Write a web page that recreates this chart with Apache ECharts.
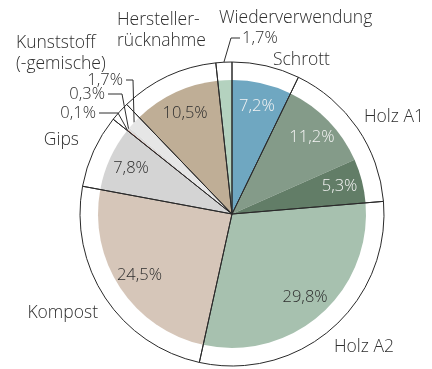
<!DOCTYPE html>
<html>
<head>
<meta charset="utf-8">
<script src="https://cdn.jsdelivr.net/npm/echarts@6/dist/echarts.min.js"></script>
<style>
  html, body { margin: 0; padding: 0; background: #fff; }
  #chart { width: 432px; height: 369px; }
</style>
</head>
<body>
<div id="chart"></div>
<script>
// Shares of each recovery path in percent, clockwise from 12 o'clock
const shareValues = [7.2, 11.2, 5.3, 29.8, 24.5, 7.8, 0.1, 0.3, 1.7, 10.5, 1.7];
// Group (index into groupNames) each share belongs to
const shareGroups = [0, 1, 1, 2, 3, 4, 5, 5, 5, 6, 7];
const groupNames = ['Schrott', 'Holz A1', 'Holz A2', 'Kompost', 'Gips',
  'Kunststoff\n(-gemische)', 'Hersteller-\nrücknahme', 'Wiederverwendung'];

// ---- styling & layout ----
const shareColors = ['#6fa7c1', '#849b89', '#627d67', '#a7c1af', '#d6c6b9', '#d4d4d4',
  '#c5533b', '#dcdcdc', '#e6e6e6', '#bfae96', '#b4d2bf'];
const lightText = [0, 1, 2];            // shares whose value sits on a dark fill
const insideValue = [0, 1, 2, 3, 4, 5, 9];
const FONT = 'Open Sans';
const INK = '#2e2e2e';
const CENTER = [232, 214];
const R_OUTER = 152;
const R_INNER = 134;

// group name anchors: [x, y, align]
const groupLabelPos = [
  [273, 60, 'left'],
  [364, 117, 'left'],
  [334, 347, 'left'],
  [98, 313, 'right'],
  [79, 140, 'right'],
  [16, 54, 'left'],
  [117, 31, 'left'],
  [219, 18, 'left']
];
// callouts for thin slices: dataIndex -> [line end x, elbow x, y]
const callouts = {
  6: [99, 118, 113],
  7: [108, 122, 94],
  8: [126, 133, 80],
  10: [240, 231, 38]
};

const fmtPct = v => v.toFixed(1).replace('.', ',') + '%';

// group totals summed from the shares
const groupValues = groupNames.map((_, g) =>
  shareValues.reduce((s, v, i) => s + (shareGroups[i] === g ? v : 0), 0));

function calloutLayout(p) {
  const c = callouts[p.dataIndex];
  if (!c || !p.labelLinePoints) return {};
  const [lineX, elbowX, y] = c;
  const start = p.labelLinePoints[0];
  const textLeft = elbowX > lineX;
  return {
    x: textLeft ? lineX - 3 : lineX + 2,
    y: y,
    align: textLeft ? 'right' : 'left',
    verticalAlign: 'middle',
    labelLinePoints: [start, [elbowX, y], [lineX, y]]
  };
}

const chart = echarts.init(document.getElementById('chart'), null, { renderer: 'canvas' });

const valueText = { fontFamily: FONT, fontWeight: 300, fontSize: 16.5, color: INK };
const nameText = { fontFamily: FONT, fontWeight: 300, fontSize: 17.5, color: INK };

chart.setOption({
  animation: false,
  backgroundColor: '#ffffff',
  series: [
    {
      // coloured shares
      name: 'shares',
      type: 'pie',
      center: CENTER,
      radius: [0, R_INNER],
      startAngle: 90,
      clockwise: true,
      avoidLabelOverlap: false,
      silent: true,
      z: 1,
      data: shareValues.map((v, i) => ({
        value: v,
        name: groupNames[shareGroups[i]] + ' ' + i,
        itemStyle: { color: shareColors[i] },
        label: { show: i >= 6 && i <= 8 },
        labelLine: { show: i >= 6 && i <= 8 }
      })),
      itemStyle: { borderWidth: 0 },
      label: Object.assign({ position: 'outside', formatter: p => fmtPct(p.value) }, valueText),
      labelLine: { length: 10, length2: 10, lineStyle: { color: INK, width: 1 } },
      labelLayout: calloutLayout
    },
    {
      // value labels for the shares
      name: 'shareValues',
      type: 'pie',
      center: CENTER,
      radius: [64, R_OUTER],
      startAngle: 90,
      clockwise: true,
      avoidLabelOverlap: false,
      silent: true,
      z: 4,
      data: shareValues.map((v, i) => ({
        value: v,
        name: 'v' + i,
        label: {
          show: insideValue.includes(i) || i === 10,
          position: i === 10 ? 'outside' : 'inside',
          color: lightText.includes(i) ? '#f4f4f4' : INK
        },
        labelLine: { show: i === 10 }
      })),
      itemStyle: { color: 'rgba(0,0,0,0)', borderWidth: 0 },
      label: Object.assign({ formatter: p => fmtPct(p.value) }, valueText),
      labelLine: { length: 10, length2: 10, lineStyle: { color: INK, width: 1 } },
      labelLayout: calloutLayout
    },
    {
      // group outlines with names
      name: 'groups',
      type: 'pie',
      center: CENTER,
      radius: [0, R_OUTER],
      startAngle: 90,
      clockwise: true,
      avoidLabelOverlap: false,
      silent: true,
      z: 3,
      data: groupValues.map((v, g) => ({ value: v, name: groupNames[g] })),
      itemStyle: { color: 'rgba(0,0,0,0)', borderColor: '#2a2a2a', borderWidth: 1 },
      label: Object.assign({ position: 'outside', formatter: '{b}', lineHeight: 21 }, nameText),
      labelLine: { show: false },
      labelLayout: p => {
        const [x, y, align] = groupLabelPos[p.dataIndex];
        return { x: x, y: y, align: align, verticalAlign: 'middle' };
      }
    }
  ]
});
</script>
</body>
</html>
